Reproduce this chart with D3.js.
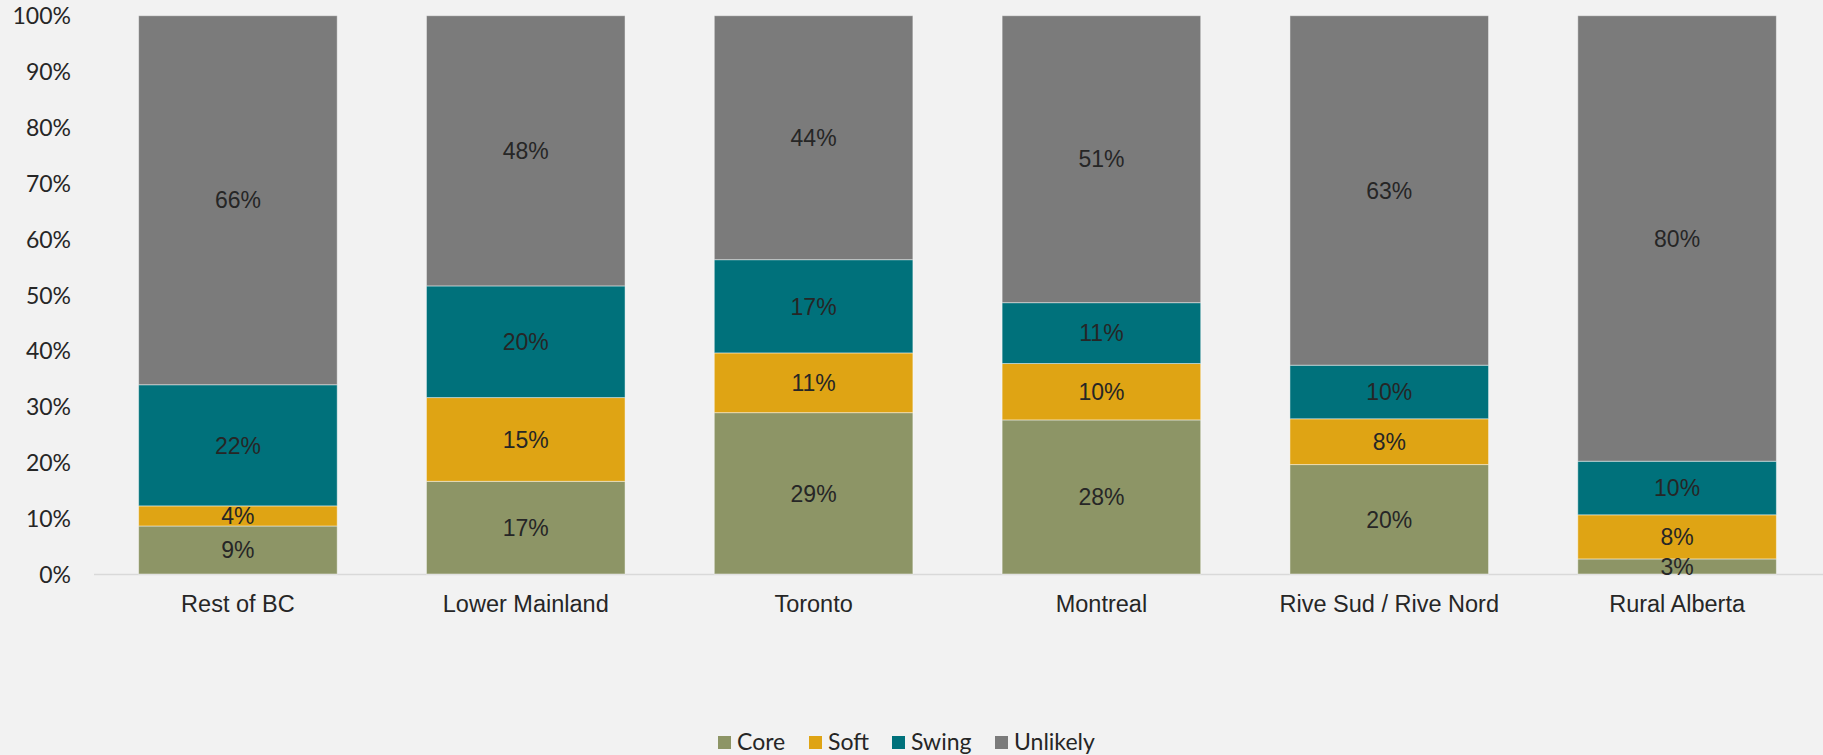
<!DOCTYPE html>
<html><head><meta charset="utf-8">
<script src="https://cdn.jsdelivr.net/npm/d3@7"></script>
<style>
html,body{margin:0;padding:0;background:#f2f2f2;}
svg{display:block;}
</style></head>
<body>
<svg id="chart" width="1823" height="755"></svg>
<script>
const categories = ["Rest of BC","Lower Mainland","Toronto","Montreal","Rive Sud / Rive Nord","Rural Alberta"];
const seriesNames = ["Core","Soft","Swing","Unlikely"];
const core     = [8.6, 16.6, 28.9, 27.6, 19.6, 2.7];
const soft     = [3.6, 15.0, 10.7, 10.1, 8.2, 7.9];
const swing    = [21.7, 20.0, 16.7, 10.9, 9.6, 9.6];
const unlikely = [66.1, 48.4, 43.7, 51.4, 62.6, 79.8];
const yTicks = [0,10,20,30,40,50,60,70,80,90,100];
const colors = ["#8d9566","#dfa414","#00717b","#7b7b7b"];

const svg = d3.select("#chart");
const W = 1823, H = 755;
const m = {left: 94, right: 2, top: 15.7, bottom: 181};
const x = d3.scaleBand().domain(categories).range([m.left, W - m.right]).paddingInner(0.31).paddingOuter(0.155);
const y = d3.scaleLinear().domain([0,100]).range([H - m.bottom, m.top]);

const rows = categories.map((c,i)=>({cat:c, Core:core[i], Soft:soft[i], Swing:swing[i], Unlikely:unlikely[i]}));
const stacked = d3.stack().keys(seriesNames)(rows);

// axis line
svg.append("line").attr("x1", m.left).attr("x2", W).attr("y1", y(0)+0.5).attr("y2", y(0)+0.5)
  .attr("stroke","#d9d9d9").attr("stroke-width",1.5);

const g = svg.append("g");
stacked.forEach((s,si)=>{
  g.selectAll(null).data(s).enter().append("rect")
    .attr("x", d=>x(d.data.cat))
    .attr("width", x.bandwidth())
    .attr("y", d=>y(d[1]))
    .attr("height", d=>y(d[0])-y(d[1]))
    .attr("fill", colors[si])
    .attr("stroke","rgba(255,255,255,0.45)").attr("stroke-width",1);
});
const fmt = v => Math.round(v) + "%";
stacked.forEach((s,si)=>{
  g.selectAll(null).data(s).enter().append("text")
    .attr("x", d=>x(d.data.cat)+x.bandwidth()/2)
    .attr("y", d=>(y(d[0])+y(d[1]))/2)
    .attr("dy","0.36em")
    .attr("text-anchor","middle")
    .attr("font-family","Liberation Sans, Arial, sans-serif")
    .attr("font-size", 23)
    .attr("fill","#262626")
    .text(d=>fmt(d[1]-d[0]));
});

// y axis labels
const yAxis = d3.axisLeft(y).tickValues(yTicks).tickFormat(d=>d+"%").tickSize(0).tickPadding(0);
const ya = svg.append("g").attr("transform",`translate(71,0)`).call(yAxis);
ya.select(".domain").remove();
ya.selectAll("text").attr("font-family","Lato, sans-serif").attr("font-size",23).attr("fill","#262626").attr("dy","0.36em");

// x axis labels
const xAxis = d3.axisBottom(x).tickSize(0).tickPadding(0);
const xa = svg.append("g").attr("transform",`translate(0,${y(0)})`).call(xAxis);
xa.select(".domain").remove();
xa.selectAll("text").attr("font-family","Liberation Sans, Arial, sans-serif").attr("font-size",23.5)
  .attr("fill","#262626").attr("dy",null).attr("y",37.5);

// legend
const legX = [718, 809, 892, 995];
const leg = svg.append("g");
seriesNames.forEach((n,i)=>{
  leg.append("rect").attr("x",legX[i]).attr("y",736).attr("width",13).attr("height",13).attr("fill",colors[i]);
  leg.append("text").attr("x",legX[i]+19).attr("y",750).attr("font-family","Lato, sans-serif")
    .attr("font-size",23).attr("fill","#262626").text(n);
});
</script>
</body></html>
